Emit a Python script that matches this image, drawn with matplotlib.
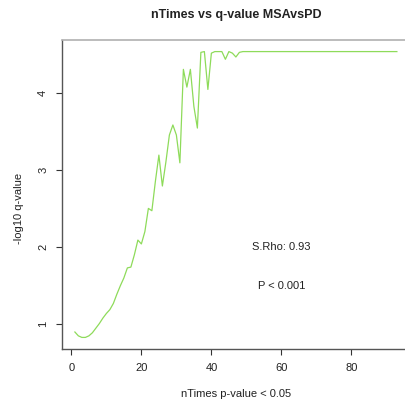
import matplotlib
matplotlib.use("Agg")
import matplotlib.pyplot as plt

plt.rcParams["font.family"] = ["Liberation Sans", "DejaVu Sans"]

# nTimes p-value < 0.05 (1..93) and -log10 q-value
n_times = list(range(1, 94))
neg_log_q = [0.90, 0.85, 0.83, 0.83, 0.85, 0.89, 0.95, 1.01, 1.08, 1.14,
             1.19, 1.27, 1.39, 1.50, 1.60, 1.73, 1.74, 1.90, 2.09, 2.04,
             2.20, 2.50, 2.47, 2.85, 3.19, 2.79, 3.10, 3.45, 3.58, 3.45,
             3.09, 4.30, 4.07, 4.30, 3.82, 3.54, 4.52, 4.53, 4.04, 4.51,
             4.53, 4.53, 4.53, 4.43, 4.53, 4.51, 4.46, 4.52] + [4.53] * 45

x_ticks = [0, 20, 40, 60, 80]
y_ticks = [1, 2, 3, 4]
stats_text = ["S.Rho: 0.93", "P < 0.001"]

W, H = 405, 409
fig = plt.figure(figsize=(W / 100, H / 100), dpi=100)
# plot box runs past the right edge of the image, as in the original
ax = fig.add_axes([62 / W, 60 / H, 438 / W, 309 / H])
ax.patch.set_visible(False)

ax.plot(n_times, neg_log_q, color="#8edb5a", linewidth=0.9)
ax.set_xlim(-2.68, -2.68 + 438 / 3.5)
ax.set_ylim(0.68, 4.68)

ax.set_xticks(x_ticks)
ax.set_yticks(y_ticks)
ax.tick_params(direction="out", length=4, width=0.8, color="#333333",
               labelsize=8, labelcolor="#222222")
ax.tick_params(axis="x", pad=6)
ax.tick_params(axis="y", pad=6, labelrotation=90)
for lab in ax.get_yticklabels():
    lab.set_va("center")

for s in ["left", "bottom"]:
    ax.spines[s].set_color("#555555")
    ax.spines[s].set_linewidth(1.0)
ax.spines["top"].set_color("#b0b0b0")
ax.spines["top"].set_linewidth(1.2)
ax.spines["right"].set_visible(False)

ax.text(60, 2, stats_text[0], ha="center", va="center", fontsize=8, color="#222222")
ax.text(60, 1.5, stats_text[1], ha="center", va="center", fontsize=8, color="#222222")

fig.text(236 / W, 1 - 15 / H, "nTimes vs q-value MSAvsPD", ha="center", va="center",
         fontsize=9, fontweight="bold", color="#222222")
fig.text(236 / W, 1 - 394 / H, "nTimes p-value < 0.05", ha="center", va="center",
         fontsize=8, color="#222222")
fig.text(19 / W, 1 - 208 / H, "-log10 q-value", ha="center", va="center",
         rotation=90, fontsize=8, color="#222222")

fig.savefig("out.png", dpi=100)
